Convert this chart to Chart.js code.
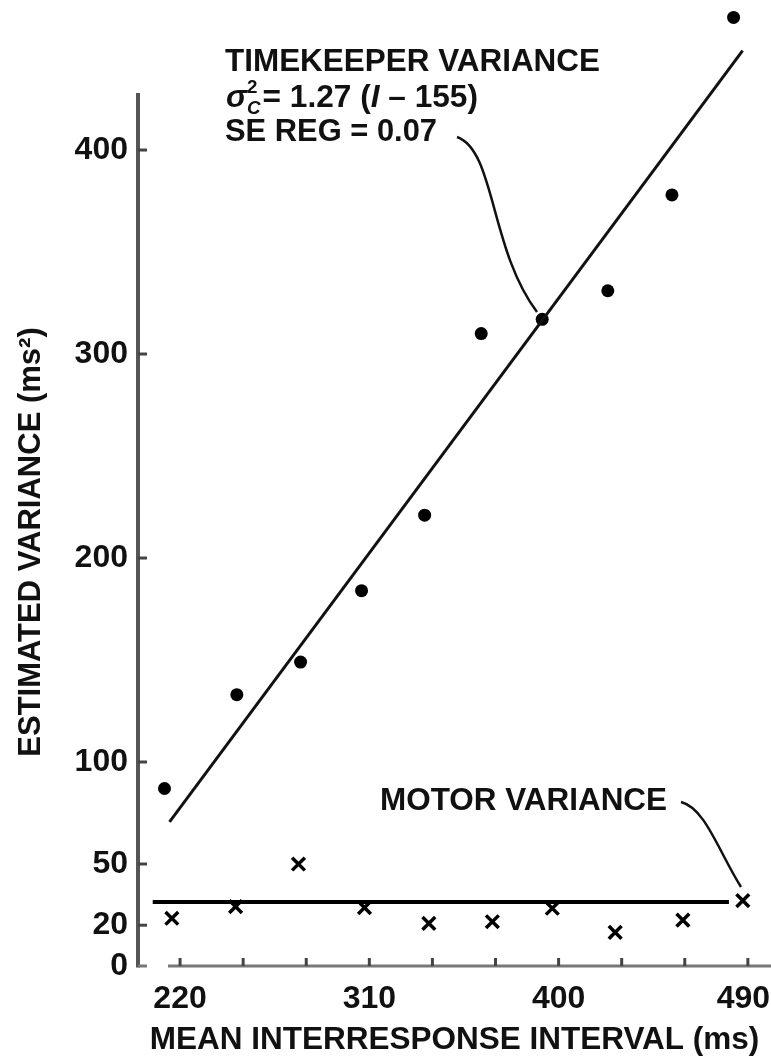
<!DOCTYPE html>
<html>
<head>
<meta charset="utf-8">
<title>Timekeeper and motor variance</title>
<script src="https://cdn.jsdelivr.net/npm/chart.js@4.4.1/dist/chart.umd.min.js"></script>
<style>
    html, body { margin: 0; padding: 0; background: #fff; }
    #wrap { width: 771px; height: 1061px; }
</style>
</head>
<body>
<div id="wrap"><canvas id="varianceChart" width="771" height="1061"></canvas></div>
<script>
// Timekeeper variance estimates (dots)
const timekeeperIntervals = [212.6, 247, 277.3, 306.3, 336.3, 363.2, 392.2, 423.4, 453.9, 483.2];
const timekeeperVariance = [87, 133, 149, 184, 221, 310, 317, 331, 378, 465];

// Motor variance estimates (x marks)
const motorIntervals = [216.1, 246.4, 276.3, 307.7, 338.3, 368.5, 397, 426.9, 459.1, 487.6];
const motorVariance = [23.4, 29.1, 50, 28.6, 20.9, 21.7, 28.3, 16.5, 22.5, 32];

// Fitted lines, end points as drawn
const timekeeperFitX = [215, 487.5];
const timekeeperFitY = [70.7, 448.7];
const motorFitX = [207, 481];
const motorFitY = [31.4, 31.4];

// Axis ticks; the drawn y axis stops at yAxisTop
const xTicks = [220, 250, 280, 310, 340, 370, 400, 430, 460, 490];
const xTickLabels = [220, 310, 400, 490];
const yTicks = [0, 20, 50, 100, 200, 300, 400];
const yAxisTop = 428;

const FONT = '"Liberation Sans", Arial, sans-serif';
const INK = '#111';

function toPoints(xs, ys) {
    return xs.map((x, i) => ({ x: x, y: ys[i] }));
}

function line(ctx, x1, y1, x2, y2) {
    ctx.beginPath();
    ctx.moveTo(x1, y1);
    ctx.lineTo(x2, y2);
    ctx.stroke();
}

// sigma^2_C = 1.27 (I - 155), squeezed to the given width
function drawFormula(ctx, x, y, width) {
    const parts = [
        { t: '\u03C3', f: 'italic bold 32px ' + FONT },
        { t: '2', f: 'bold 19px ' + FONT, dy: -14, stack: true },
        { t: 'C', f: 'italic bold 19px ' + FONT, dy: 7 },
        { t: '= 1.27 (', f: 'bold 32px ' + FONT, pad: 2 },
        { t: 'I', f: 'italic bold 32px ' + FONT },
        { t: ' \u2013 155)', f: 'bold 32px ' + FONT }
    ];
    let total = 0;
    parts.forEach(p => {
        ctx.font = p.f;
        p.w = ctx.measureText(p.t).width;
        if (!p.stack) total += p.w + (p.pad || 0);
    });
    ctx.save();
    ctx.translate(x, y);
    ctx.scale(width / total, 1);
    let cx = 0;
    parts.forEach(p => {
        ctx.font = p.f;
        cx += p.pad || 0;
        ctx.fillText(p.t, cx, p.dy || 0);
        if (!p.stack) cx += p.w;
    });
    ctx.restore();
}

// axes lines, tick marks, y title, notes and leaders
const extrasPlugin = {
    id: 'extras',
    afterDraw(chart) {
        const ctx = chart.ctx;
        const area = chart.chartArea;
        const xs = chart.scales.x;
        const ys = chart.scales.y;
        ctx.save();

        // y axis
        ctx.strokeStyle = '#555';
        ctx.lineWidth = 4;
        line(ctx, area.left, ys.getPixelForValue(yAxisTop), area.left, area.bottom + 1.5);

        // y ticks point into the plot
        ctx.strokeStyle = '#444';
        ctx.lineWidth = 3;
        ys.ticks.forEach(t => {
            if (t.value === 0) return;
            const py = ys.getPixelForValue(t.value);
            line(ctx, area.left, py, area.left + 9, py);
        });

        // x axis: short foot, then the axis proper
        ctx.strokeStyle = '#777';
        ctx.lineWidth = 3;
        line(ctx, area.left, area.bottom, area.left + 9, area.bottom);
        line(ctx, area.left + 30, area.bottom, area.right, area.bottom);
        ctx.strokeStyle = '#444';
        xs.ticks.forEach(t => {
            const px = xs.getPixelForValue(t.value);
            line(ctx, px, area.bottom, px, area.bottom - 8);
        });

        ctx.fillStyle = INK;

        // y axis title
        ctx.save();
        ctx.translate(31, 542);
        ctx.rotate(-Math.PI / 2);
        ctx.font = 'bold 31px ' + FONT;
        ctx.textAlign = 'center';
        ctx.textBaseline = 'middle';
        ctx.fillText('ESTIMATED VARIANCE (ms\u00B2)', 0, 0, 440);
        ctx.restore();

        // notes
        ctx.textAlign = 'left';
        ctx.textBaseline = 'alphabetic';
        ctx.font = 'bold 32px ' + FONT;
        ctx.fillText('TIMEKEEPER VARIANCE', 225, 71, 375);
        drawFormula(ctx, 226, 107, 252);
        ctx.font = 'bold 32px ' + FONT;
        ctx.fillText('SE REG = 0.07', 225, 141, 212);
        ctx.fillText('MOTOR VARIANCE', 380, 810, 287);

        // leaders
        ctx.strokeStyle = INK;
        ctx.lineWidth = 2.5;
        ctx.beginPath();
        ctx.moveTo(457, 137);
        ctx.bezierCurveTo(495, 150, 490, 250, 537, 312);
        ctx.stroke();
        ctx.beginPath();
        ctx.moveTo(681, 802);
        ctx.bezierCurveTo(705, 808, 718, 850, 741, 887);
        ctx.stroke();

        ctx.restore();
    }
};

new Chart(document.getElementById('varianceChart'), {
    type: 'scatter',
    data: {
        datasets: [
            {
                label: 'Timekeeper fit',
                type: 'line',
                data: toPoints(timekeeperFitX, timekeeperFitY),
                borderColor: INK,
                borderWidth: 3,
                pointRadius: 0,
                fill: false
            },
            {
                label: 'Motor fit',
                type: 'line',
                data: toPoints(motorFitX, motorFitY),
                borderColor: '#000',
                borderWidth: 4,
                pointRadius: 0,
                fill: false
            },
            {
                label: 'Timekeeper variance',
                data: toPoints(timekeeperIntervals, timekeeperVariance),
                backgroundColor: '#000',
                borderColor: '#000',
                borderWidth: 0,
                pointRadius: 6.5
            },
            {
                label: 'Motor variance',
                data: toPoints(motorIntervals, motorVariance),
                pointStyle: 'crossRot',
                borderColor: '#000',
                borderWidth: 3.5,
                pointRadius: 9
            }
        ]
    },
    options: {
        responsive: false,
        animation: false,
        layout: { autoPadding: false, padding: { top: 6, right: 0, bottom: 0, left: 0 } },
        plugins: {
            legend: { display: false },
            tooltip: { enabled: false }
        },
        scales: {
            x: {
                type: 'linear',
                min: 200,
                max: 501,
                border: { display: false },
                grid: { display: false, drawTicks: false },
                afterBuildTicks: function(scale) {
                    scale.ticks = xTicks.map(v => ({ value: v }));
                },
                afterFit: function(scale) {
                    scale.height = 95;
                    scale.paddingLeft = 0;
                    scale.paddingRight = 0;
                },
                ticks: {
                    autoSkip: false,
                    maxRotation: 0,
                    padding: 14,
                    color: INK,
                    font: { family: FONT, size: 32, weight: 'bold' },
                    callback: function(value) {
                        if (!xTickLabels.includes(value)) return '';
                        // last label sits a little left so it stays on the page
                        return value === xTickLabels[xTickLabels.length - 1] ? value + ' ' : String(value);
                    }
                },
                title: {
                    display: true,
                    text: 'MEAN INTERRESPONSE INTERVAL (ms)',
                    color: INK,
                    font: { family: FONT, size: 31.5, weight: 'bold' },
                    padding: { top: 0, bottom: 2 }
                }
            },
            y: {
                type: 'linear',
                min: 0,
                max: 470.6,
                border: { display: false },
                grid: { display: false, drawTicks: false },
                afterBuildTicks: function(scale) {
                    scale.ticks = yTicks.map(v => ({ value: v }));
                },
                afterFit: function(scale) {
                    scale.width = 138;
                    scale.paddingTop = 0;
                    scale.paddingBottom = 0;
                },
                ticks: {
                    padding: 10,
                    color: INK,
                    font: { family: FONT, size: 32, weight: 'bold' }
                },
                title: { display: false }
            }
        }
    },
    plugins: [extrasPlugin]
});
</script>
</body>
</html>
